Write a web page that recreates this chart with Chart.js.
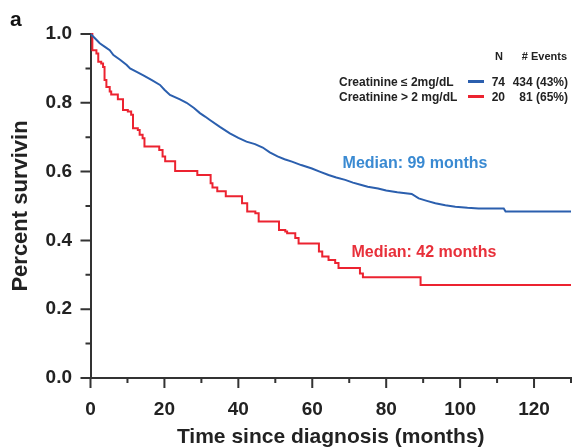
<!DOCTYPE html>
<html>
<head>
<meta charset="utf-8">
<script src="https://cdn.jsdelivr.net/npm/chart.js@4.4.1/dist/chart.umd.min.js"></script>
<style>
  html, body { margin: 0; padding: 0; background: #fff; }
</style>
</head>
<body>
<canvas id="km" width="574" height="448"></canvas>
<script>
// Kaplan-Meier: creatinine <= 2 mg/dL (dense small steps, drawn as a polyline)
const lowCrTime = [0, 1, 2.5, 4, 5.2, 6.2, 8, 9.8, 10.7, 12.5, 14.3, 16.6, 18.8, 20, 21.5, 24.2, 26, 28, 29.6, 31, 32.3, 35, 37.7, 40, 42.2, 44.5, 46.6, 48.5, 50.6, 52.5, 54.5, 57, 59.9, 62, 64.4, 66.5, 68.9, 71, 73.3, 75, 77.8, 80, 83, 86.9, 88.8, 91, 93.3, 96, 98.7, 102, 105, 111.8, 112.3, 130];
const lowCrSurv = [1, 0.99, 0.973, 0.962, 0.953, 0.939, 0.925, 0.91, 0.9, 0.89, 0.88, 0.866, 0.852, 0.838, 0.823, 0.81, 0.8, 0.785, 0.77, 0.76, 0.75, 0.73, 0.711, 0.698, 0.687, 0.68, 0.67, 0.656, 0.644, 0.636, 0.629, 0.619, 0.609, 0.6, 0.59, 0.583, 0.576, 0.568, 0.561, 0.556, 0.551, 0.545, 0.54, 0.535, 0.522, 0.515, 0.508, 0.502, 0.498, 0.495, 0.493, 0.493, 0.484, 0.484];

// Kaplan-Meier: creatinine > 2 mg/dL
const highCrTime = [0, 0.5, 1.6, 2.1, 2.9, 3.4, 3.8, 4.3, 5.2, 5.6, 7.4, 8.8, 10.1, 11, 11.5, 12.8, 13.3, 14.1, 14.6, 18.6, 19.5, 20.2, 22.9, 28.9, 32.5, 33, 34.3, 36.6, 41, 42.4, 44.6, 45.5, 51, 52.7, 53.2, 55.4, 56.3, 61.8, 62.7, 64.4, 66.2, 67.1, 72.9, 73.7, 89.3, 130];
const highCrSurv = [1, 0.953, 0.943, 0.919, 0.914, 0.904, 0.866, 0.846, 0.833, 0.824, 0.81, 0.779, 0.775, 0.765, 0.726, 0.721, 0.707, 0.697, 0.673, 0.663, 0.644, 0.63, 0.602, 0.59, 0.566, 0.554, 0.543, 0.528, 0.508, 0.484, 0.479, 0.455, 0.43, 0.426, 0.421, 0.407, 0.391, 0.368, 0.353, 0.343, 0.334, 0.32, 0.304, 0.293, 0.27, 0.27];

const xLabelValues = [0, 20, 40, 60, 80, 100, 120];
const yLabelValues = [0, 0.2, 0.4, 0.6, 0.8, 1.0];

const seriesNames = ['Creatinine \u2264 2mg/dL', 'Creatinine > 2 mg/dL'];
const seriesN = ['74', '20'];
const seriesEvents = ['434 (43%)', '81 (65%)'];
const medianLabels = ['Median: 99 months', 'Median: 42 months'];

const BLUE = '#2b5fae';
const RED = '#ec2330';
const FONT = "'Liberation Sans', Arial, sans-serif";
const INK = '#222';

function toPoints(ts, ss) {
    return ts.map((t, i) => ({ x: t, y: ss[i] }));
}

// tick marks (long at labelled values, short in between), legend box, medians
const decorPlugin = {
    id: 'decor',
    afterDraw(chart) {
        const ctx = chart.ctx;
        const xs = chart.scales.x, ys = chart.scales.y;
        const area = chart.chartArea;
        ctx.save();
        ctx.strokeStyle = '#333';
        ctx.lineWidth = 2;
        ctx.beginPath();
        xs.ticks.forEach(t => {
            const px = xs.getPixelForValue(t.value);
            const len = xLabelValues.includes(t.value) ? 10 : 5;
            ctx.moveTo(px, area.bottom);
            ctx.lineTo(px, area.bottom + len);
        });
        ys.ticks.forEach(t => {
            const py = ys.getPixelForValue(t.value);
            const major = yLabelValues.some(v => Math.abs(v - t.value) < 1e-6);
            ctx.moveTo(area.left, py);
            ctx.lineTo(area.left - (major ? 10 : 5), py);
        });
        ctx.stroke();

        // panel letter
        ctx.fillStyle = '#111';
        ctx.font = 'bold 21px ' + FONT;
        ctx.textBaseline = 'alphabetic';
        ctx.textAlign = 'left';
        ctx.fillText('a', 10, 26);

        // legend table
        ctx.fillStyle = INK;
        ctx.font = 'bold 11px ' + FONT;
        ctx.textAlign = 'center';
        ctx.fillText('N', 499, 60);
        ctx.textAlign = 'right';
        ctx.fillText('# Events', 567, 60);
        const colors = [BLUE, RED];
        const rows = [86, 101];
        ctx.font = 'bold 12px ' + FONT;
        rows.forEach((by, i) => {
            ctx.fillStyle = INK;
            ctx.textAlign = 'left';
            ctx.fillText(seriesNames[i], 339, by);
            ctx.textAlign = 'right';
            ctx.fillText(seriesN[i], 505, by);
            ctx.fillText(seriesEvents[i], 568, by);
            ctx.strokeStyle = colors[i];
            ctx.lineWidth = 3;
            ctx.beginPath();
            ctx.moveTo(468, by - 4.5);
            ctx.lineTo(484, by - 4.5);
            ctx.stroke();
        });

        // median annotations
        ctx.font = 'bold 16px ' + FONT;
        ctx.textAlign = 'left';
        ctx.textBaseline = 'middle';
        ctx.fillStyle = '#3a8ad2';
        ctx.fillText(medianLabels[0], xs.getPixelForValue(68.2), ys.getPixelForValue(0.622));
        ctx.fillStyle = '#e8303a';
        ctx.fillText(medianLabels[1], xs.getPixelForValue(70.6), ys.getPixelForValue(0.366));
        ctx.restore();
    }
};

const ctx = document.getElementById('km').getContext('2d');
new Chart(ctx, {
    type: 'line',
    data: {
        datasets: [
            {
                label: seriesNames[0],
                data: toPoints(lowCrTime, lowCrSurv),
                borderColor: BLUE,
                borderWidth: 2,
                tension: 0,
                pointRadius: 0,
                fill: false,
                clip: 6
            },
            {
                label: seriesNames[1],
                data: toPoints(highCrTime, highCrSurv),
                borderColor: RED,
                borderWidth: 2,
                stepped: true,
                pointRadius: 0,
                fill: false,
                clip: 6
            }
        ]
    },
    options: {
        responsive: false,
        animation: false,
        layout: { padding: { top: 34, right: 3, left: 0, bottom: 0 } },
        plugins: {
            legend: { display: false },
            tooltip: { enabled: false }
        },
        scales: {
            x: {
                type: 'linear',
                min: 0,
                max: 130,
                afterFit(scale) { scale.height = 70; },
                grid: { display: false, drawTicks: true, tickLength: 19 },
                border: { display: true, color: '#333', width: 2 },
                ticks: {
                    stepSize: 10,
                    autoSkip: false,
                    maxRotation: 0,
                    padding: 1,
                    color: INK,
                    font: { family: FONT, size: 19, weight: 'bold' },
                    callback: v => xLabelValues.includes(v) ? String(v) : ''
                },
                title: {
                    display: true,
                    text: 'Time since diagnosis (months)',
                    color: INK,
                    font: { family: FONT, size: 21, weight: 'bold', lineHeight: 1 },
                    padding: { top: 0, bottom: 0 }
                }
            },
            y: {
                min: 0,
                max: 1,
                afterFit(scale) { scale.width = 90.5; },
                grid: { display: false, drawTicks: false },
                border: { display: true, color: '#333', width: 2 },
                ticks: {
                    stepSize: 0.1,
                    autoSkip: false,
                    padding: 18.5,
                    color: INK,
                    font: { family: FONT, size: 19, weight: 'bold' },
                    callback: v => yLabelValues.some(l => Math.abs(l - v) < 1e-6) ? v.toFixed(1) : ''
                },
                title: {
                    display: true,
                    text: 'Percent survivin',
                    color: INK,
                    font: { family: FONT, size: 22, weight: 'bold', lineHeight: 1 },
                    padding: { top: 9.5, bottom: 0 }
                }
            }
        }
    },
    plugins: [decorPlugin]
});
</script>
</body>
</html>
